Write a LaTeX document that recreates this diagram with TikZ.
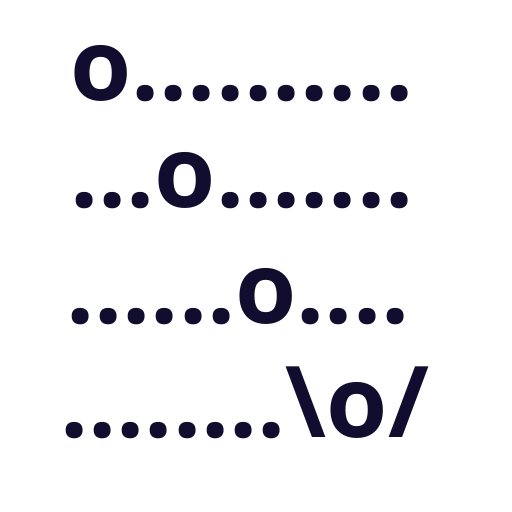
\documentclass[tikz,border=0pt]{standalone}
\usepackage{fontspec}
\setmainfont{Open Sans}
\definecolor{ink}{HTML}{110D2F}
\begin{document}
\begin{tikzpicture}[x=1bp,y=1bp,
  row/.style={anchor=base west,inner sep=0pt,text=ink,font=\fontsize{99bp}{110bp}\selectfont\bfseries}]
\useasboundingbox (0,0) rectangle (512,512);
\node[row] (l1) at (70,411) {o..........};
\node[row] (l2) at (70,304) {...o.......};
\node[row] (l3) at (66,188) {......o....};
\node[row] (l4) at (60,74) {........\textbackslash o/};
\end{tikzpicture}
\end{document}
